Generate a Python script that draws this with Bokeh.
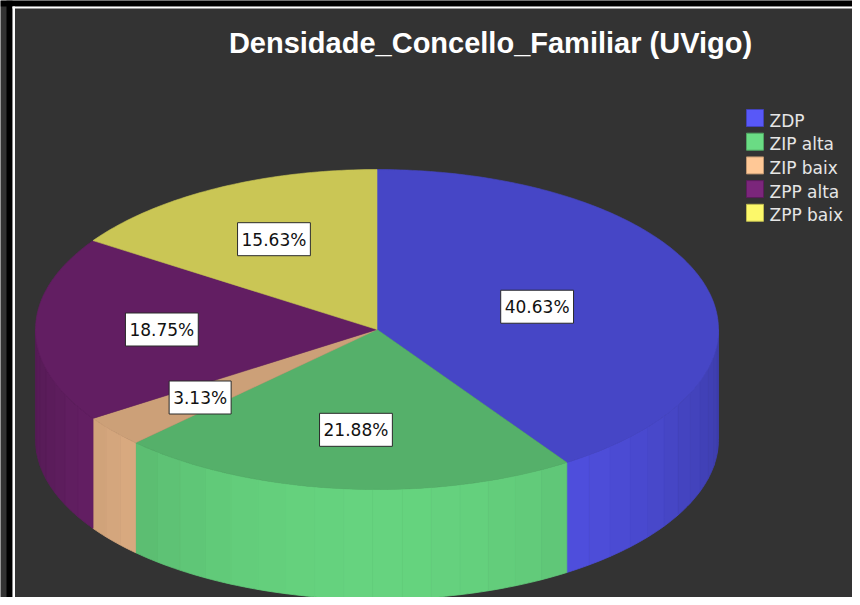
import math
from bokeh.plotting import figure
from bokeh.models import Range1d
from bokeh.core.properties import value
from bokeh.embed import file_html
from bokeh.resources import INLINE

# ---- data ----
title_text = "Densidade_Concello_Familiar (UVigo)"
categories = ["ZDP", "ZIP alta", "ZIP baix", "ZPP alta", "ZPP baix"]
percents = [40.63, 21.88, 3.13, 18.75, 15.63]
base_colors = ["#5858f8", "#6adc84", "#ffc896", "#7b267b", "#fcf86a"]

# ---- layout parameters ----
W, H = 852, 597
CX, CY = 376.5, 329.0      # centre of the top ellipse (px)
RX, RY = 341.5, 160.0      # radii of the top ellipse
DEPTH = 110.0              # height of the pie side
label_frac = [0.49, 0.63, 0.67, 0.63, 0.64]


def hex_to_rgb(h):
    h = h.lstrip("#")
    return tuple(int(h[i:i + 2], 16) for i in (0, 2, 4))


def scale(h, f):
    r, g, b = hex_to_rgb(h)
    return "#%02x%02x%02x" % tuple(max(0, min(255, int(round(c * f)))) for c in (r, g, b))


def top_pt(theta_deg):
    t = math.radians(theta_deg)
    return CX + RX * math.cos(t), CY - RY * math.sin(t)


p = figure(width=W, height=H, output_backend="svg", toolbar_location=None,
           x_range=Range1d(0, W), y_range=Range1d(H, 0),
           x_axis_location=None, y_axis_location=None,
           min_border_left=0, min_border_right=0, min_border_top=0, min_border_bottom=0)
p.grid.visible = False
p.background_fill_color = "#333333"
p.border_fill_color = "#333333"
p.outline_line_color = None

# frame decorations (black band + white line at left and top)
p.quad(left=[0], right=[W], bottom=[6], top=[0], fill_color="black", line_color=None)
p.quad(left=[6], right=[12], bottom=[H], top=[0], fill_color="black", line_color=None)
p.quad(left=[12], right=[W], bottom=[8], top=[6], fill_color="white", line_color=None)
p.quad(left=[12], right=[14.5], bottom=[H], top=[6], fill_color="white", line_color=None)

total = sum(percents)
angles = []
cum = 0.0
for v in percents:
    a0 = 90.0 - 360.0 * cum / total
    cum += v
    a1 = 90.0 - 360.0 * cum / total
    angles.append((a0, a1))

# ---- sides (front half only) ----
side_xs, side_ys, side_cols = [], [], []
for (a0, a1), col in zip(angles, base_colors):
    lo, hi = max(a1, -180.0), min(a0, 0.0)
    if hi <= lo:
        continue
    n = max(1, int(math.ceil((hi - lo) / 5.0)))
    for k in range(n):
        ta = lo + (hi - lo) * k / n
        tb = lo + (hi - lo) * (k + 1) / n
        pts = [ta + (tb - ta) * j / 4 for j in range(5)]
        top = [top_pt(t) for t in pts]
        xs = [q[0] for q in top] + [q[0] for q in reversed(top)]
        ys = [q[1] for q in top] + [q[1] + DEPTH for q in reversed(top)]
        s = -math.sin(math.radians((ta + tb) / 2))
        f = 0.70 + 0.26 * (max(s, 0) ** 1.5)
        c = scale(col, f)
        side_xs.append(xs)
        side_ys.append(ys)
        side_cols.append(c)
p.patches(side_xs, side_ys, fill_color=side_cols, line_color=side_cols, line_width=0.8)

# ---- top faces ----
top_xs, top_ys, top_cols = [], [], []
for (a0, a1), col in zip(angles, base_colors):
    n = max(2, int(abs(a0 - a1)))
    pts = [a0 + (a1 - a0) * j / n for j in range(n + 1)]
    arc = [top_pt(t) for t in pts]
    top_xs.append([CX] + [q[0] for q in arc])
    top_ys.append([CY] + [q[1] for q in arc])
    top_cols.append(scale(col, 0.8))
p.patches(top_xs, top_ys, fill_color=top_cols, line_color=top_cols, line_width=0.6)

# ---- slice labels ----
lx, ly, lt = [], [], []
for (a0, a1), v, fr in zip(angles, percents, label_frac):
    m = math.radians((a0 + a1) / 2)
    lx.append(CX + fr * RX * math.cos(m))
    ly.append(CY - fr * RY * math.sin(m))
    lt.append(f"{v:.2f}%")
p.text(lx, ly, text=lt, text_align="center", text_baseline="middle",
       text_font=value("DejaVu Sans"), text_font_size="17px", text_color="#111111",
       background_fill_color="white", border_line_color="#2a2a2a", border_line_width=1,
       padding=dict(left=4, right=4, top=7, bottom=6))

# ---- title ----
p.text([490], [42], text=[title_text], text_align="center", text_baseline="alphabetic",
       text_font=value("Liberation Sans"), text_font_style="bold", text_font_size="29px",
       text_color="white")

# ---- legend ----
ly0 = [117.5 + 23.7 * i for i in range(len(categories))]
p.rect([754.5] * len(categories), ly0, width=17, height=17,
       fill_color=base_colors, line_color=[scale(c, 0.75) for c in base_colors], line_width=1)
p.text([769] * len(categories), [y + 2.5 for y in ly0], text=categories,
       text_align="left", text_baseline="alphabetic",
       text_font=value("DejaVu Sans"), text_font_size="17px", text_color="#e6e6e6")

open("out.html", "w").write(file_html(p, INLINE))
